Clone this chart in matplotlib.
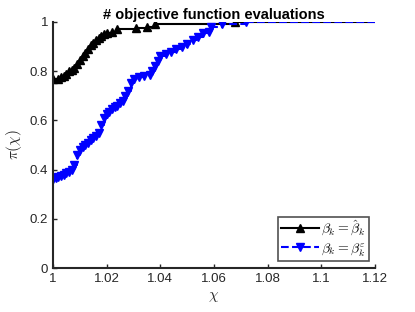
import matplotlib
matplotlib.use("Agg")
import matplotlib.pyplot as plt

plt.rcParams['font.family'] = ['Liberation Sans', 'DejaVu Sans']
plt.rcParams['mathtext.fontset'] = 'cm'

# performance profile
hat_x = [1.000, 1.002, 1.003, 1.004, 1.005, 1.006, 1.007, 1.008, 1.009, 1.010,
         1.011, 1.012, 1.013, 1.014, 1.015, 1.016, 1.017, 1.018, 1.019, 1.020,
         1.022, 1.024, 1.031, 1.035, 1.038, 1.068, 1.120]
hat_y = [0.77, 0.77, 0.775, 0.78, 0.79, 0.80, 0.805, 0.815, 0.83, 0.845,
         0.86, 0.875, 0.89, 0.905, 0.915, 0.925, 0.935, 0.945, 0.95, 0.955,
         0.96, 0.97, 0.975, 0.98, 0.99, 1.00, 1.00]

eps_x = [1.000, 1.001, 1.002, 1.003, 1.004, 1.005, 1.006, 1.007, 1.008, 1.009,
         1.010, 1.011, 1.012, 1.013, 1.014, 1.015, 1.016, 1.017, 1.018, 1.019,
         1.020, 1.021, 1.022, 1.023, 1.024, 1.025, 1.026, 1.027, 1.028, 1.029,
         1.030, 1.032, 1.034, 1.036, 1.037, 1.038, 1.039, 1.040, 1.042, 1.044,
         1.046, 1.048, 1.050, 1.052, 1.054, 1.056, 1.058, 1.059, 1.063, 1.072,
         1.120]
eps_y = [0.36, 0.365, 0.37, 0.375, 0.38, 0.385, 0.39, 0.40, 0.42, 0.46,
         0.48, 0.49, 0.50, 0.51, 0.52, 0.53, 0.535, 0.55, 0.58, 0.61,
         0.625, 0.635, 0.645, 0.655, 0.66, 0.67, 0.68, 0.70, 0.72, 0.75,
         0.77, 0.775, 0.78, 0.785, 0.80, 0.82, 0.84, 0.86, 0.87, 0.88,
         0.89, 0.90, 0.91, 0.925, 0.94, 0.955, 0.96, 0.98, 0.99, 1.00,
         1.00]

x_ticks = [1, 1.02, 1.04, 1.06, 1.08, 1.1, 1.12]
x_tick_labels = ['1', '1.02', '1.04', '1.06', '1.08', '1.1', '1.12']
y_ticks = [0, 0.2, 0.4, 0.6, 0.8, 1]
y_tick_labels = ['0', '0.2', '0.4', '0.6', '0.8', '1']

fig = plt.figure(figsize=(4.15, 3.12), dpi=100)
ax = fig.add_axes([0.1277, 0.141, 0.776, 0.7885])

ax.plot(hat_x[:-1], hat_y[:-1], color='black', lw=1.5, marker='^', ms=6,
        drawstyle='steps-post', label=r'$\beta_k = \hat{\beta}_k$')
ax.plot(hat_x[-2:], hat_y[-2:], color='black', lw=1.5)
ax.plot(eps_x[:-1], eps_y[:-1], color='blue', lw=1.5, ls='--', marker='v', ms=6,
        drawstyle='steps-post', label=r'$\beta_k = \beta_k^{\varepsilon}$')
ax.plot(eps_x[-2:], eps_y[-2:], color='blue', lw=1.5, ls='--')

ax.set_xlim(1, 1.12)
ax.set_ylim(0, 1)
ax.set_xticks(x_ticks)
ax.set_xticklabels(x_tick_labels)
ax.set_yticks(y_ticks)
ax.set_yticklabels(y_tick_labels)
ax.tick_params(direction='in', length=3, width=1, labelsize=9.5, colors='#262626',
               labelcolor='#262626')
for side in ['top', 'right']:
    ax.spines[side].set_visible(False)
for side in ['left', 'bottom']:
    ax.spines[side].set_linewidth(1.5)
    ax.spines[side].set_color('#262626')

ax.set_xlabel(r'$\chi$', fontsize=11, color='#262626')
ax.set_ylabel(r'$\pi(\chi)$', fontsize=11, color='#262626')
ax.set_title('# objective function evaluations', fontsize=10.5, fontweight='bold', pad=2)

leg = ax.legend(loc='lower right', bbox_to_anchor=(0.98, 0.03), fontsize=10,
                frameon=True, fancybox=False, edgecolor='#262626', borderpad=0.2,
                handlelength=2.8, handletextpad=0.1, labelspacing=0.2,
                borderaxespad=0.0, markerscale=0.85)
leg.get_frame().set_linewidth(1.2)

fig.savefig('out.png', dpi=100)
